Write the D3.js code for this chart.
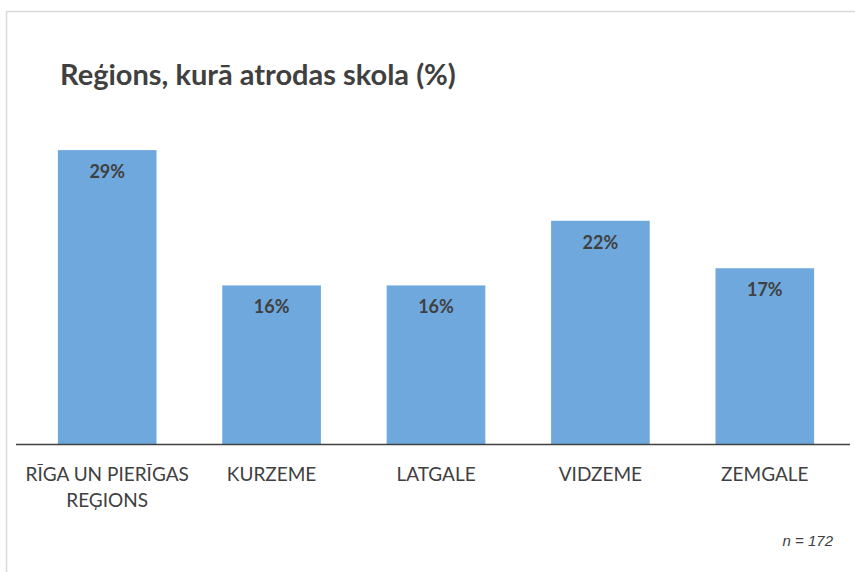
<!DOCTYPE html>
<html>
<head>
<meta charset="utf-8">
<script src="https://cdn.jsdelivr.net/npm/d3@7"></script>
<style>
  body { margin: 0; background: #fff; }
  svg text { fill: #404040; }
</style>
</head>
<body>
<div id="chart"></div>
<script>
"use strict";

// data
let categories = [["RĪGA UN PIERĪGAS", "REĢIONS"], ["KURZEME"], ["LATGALE"], ["VIDZEME"], ["ZEMGALE"]];
let percents = [29.1, 15.7, 15.7, 22.1, 17.4];
let titleText = "Reģions, kurā atrodas skola (%)";
let noteText = "n = 172";

let width = 855;
let height = 572;

let svg = d3.select("#chart").append("svg")
  .attr("width", width)
  .attr("height", height);

// frame
svg.append("rect")
  .attr("x", 6.5)
  .attr("y", 11.5)
  .attr("width", width + 10)
  .attr("height", height + 10)
  .attr("fill", "none")
  .attr("stroke", "#d9d9d9")
  .attr("stroke-width", 1.5);

svg.append("text")
  .attr("x", 60)
  .attr("y", 85)
  .style("font-family", "Lato, 'Open Sans', sans-serif")
  .style("font-weight", "bold")
  .style("font-size", "29px")
  .text(titleText);

let x = d3.scaleBand()
  .domain(d3.range(categories.length))
  .range([25, 847])
  .paddingInner(0.4)
  .paddingOuter(0.2);

let y = d3.scaleLinear()
  .domain([0, 35])
  .range([444, 90.5]);

svg.selectAll(".bar")
  .data(percents)
  .enter().append("rect")
  .attr("class", "bar")
  .attr("x", (d, i) => x(i))
  .attr("y", d => y(d))
  .attr("width", x.bandwidth())
  .attr("height", d => y(0) - y(d))
  .attr("fill", "#6fa8dc");

svg.selectAll(".valueLabel")
  .data(percents)
  .enter().append("text")
  .attr("class", "valueLabel")
  .attr("x", (d, i) => x(i) + x.bandwidth() / 2)
  .attr("y", d => y(d) + 28)
  .style("text-anchor", "middle")
  .style("font-family", "Lato, 'Open Sans', sans-serif")
  .style("font-weight", "bold")
  .style("font-size", "18px")
  .text(d => Math.round(d) + "%");

// baseline
svg.append("line")
  .attr("x1", 16)
  .attr("x2", 850)
  .attr("y1", y(0) + 0.5)
  .attr("y2", y(0) + 0.5)
  .attr("stroke", "#404040")
  .attr("stroke-width", 1.5);

let catGroup = svg.selectAll(".catLabel")
  .data(categories)
  .enter().append("text")
  .attr("class", "catLabel")
  .attr("x", (d, i) => x(i) + x.bandwidth() / 2)
  .attr("y", 481)
  .style("text-anchor", "middle")
  .style("font-family", "Lato, 'Open Sans', sans-serif")
  .style("font-size", "19px");

catGroup.selectAll("tspan")
  .data(d => d)
  .enter().append("tspan")
  .attr("x", function() { return d3.select(this.parentNode).attr("x"); })
  .attr("dy", (d, i) => i === 0 ? 0 : 26)
  .text(d => d);

svg.append("text")
  .attr("x", 833)
  .attr("y", 546)
  .style("text-anchor", "end")
  .style("font-family", "'Liberation Sans', Arial, sans-serif")
  .style("font-style", "italic")
  .style("font-size", "15px")
  .text(noteText);
</script>
</body>
</html>
